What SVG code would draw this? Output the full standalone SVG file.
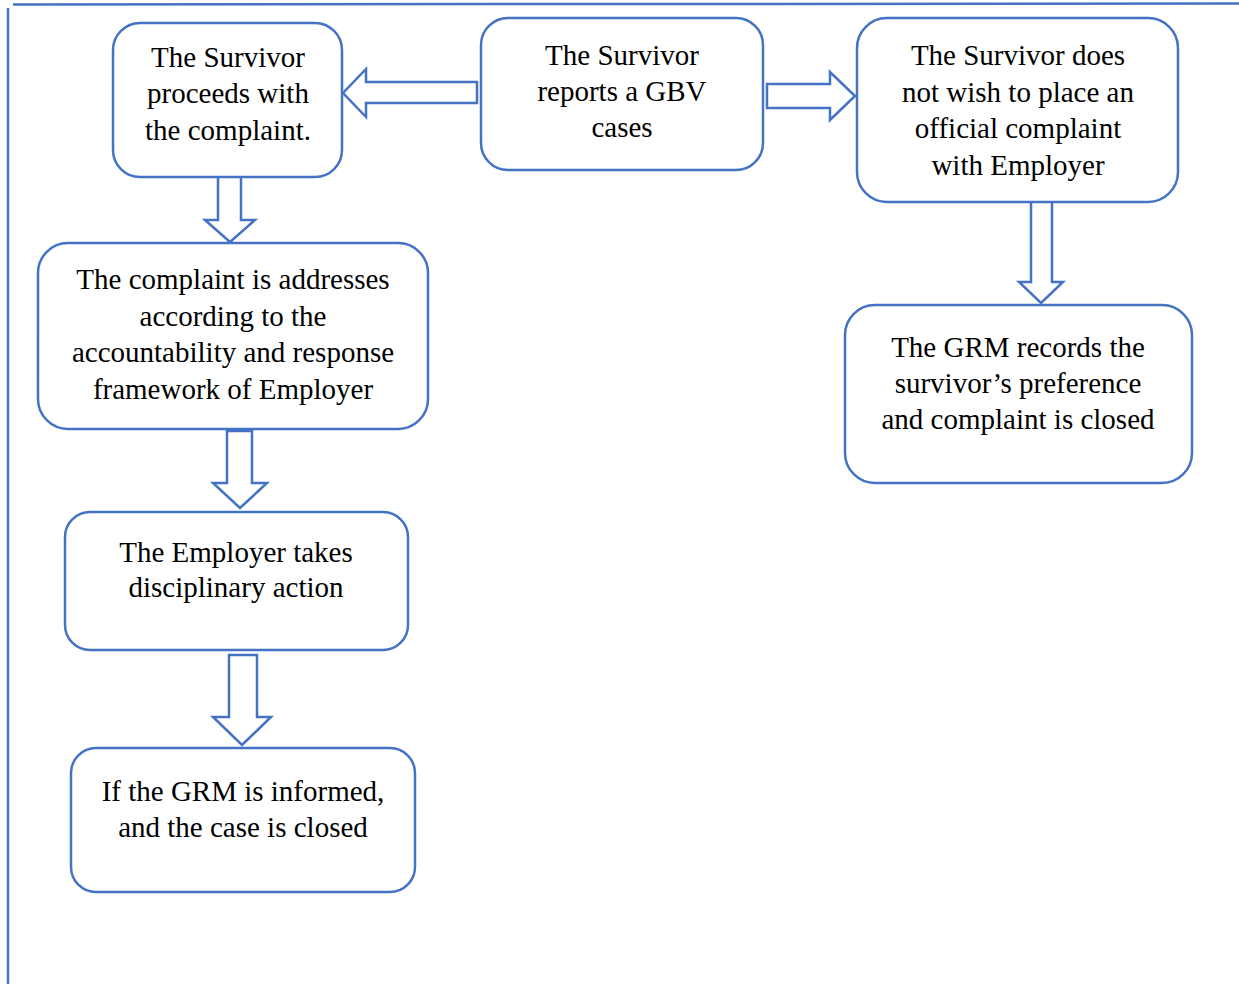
<svg xmlns="http://www.w3.org/2000/svg" width="1239" height="984" viewBox="0 0 1239 984">
<style>
.box{fill:#fff;stroke:#4472C4;stroke-width:2.5}
.arr{fill:#fff;stroke:#4472C4;stroke-width:2.5;stroke-linejoin:miter}
.frame{stroke:#4472C4;stroke-width:2.5;fill:none}
.t{font-family:'Liberation Serif',serif;font-size:29px;fill:#000;text-anchor:middle}
</style>
<rect width="1239" height="984" fill="#fff"/>
<g id="frame">
<line class="frame" x1="13" y1="4.5" x2="1239" y2="3.5"/>
<line class="frame" x1="8" y1="8" x2="8" y2="984"/>
</g>
<g id="connectors">
<polygon class="arr" points="477,82 366,82 366,69 343,93 366,117 366,103 477,103"/>
<polygon class="arr" points="767,84 830,84 830,72 855,96 830,120 830,108 767,108"/>
<polygon class="arr" points="218,173 241,173 241,220 255,220 230,242 205,220 218,220"/>
<polygon class="arr" points="227,431 252,431 252,483 267,483 240,508 213,483 227,483"/>
<polygon class="arr" points="229,655 257,655 257,717 271,717 242,745 213,717 229,717"/>
<polygon class="arr" points="1031,198 1052,198 1052,282 1063,282 1041,303 1019,282 1031,282"/>
</g>
<g class="t" font-family="Liberation Serif, serif">
<g id="n1">
<rect class="box" x="113" y="23" width="229" height="154" rx="27"/>
<text x="228" y="67">The Survivor</text>
<text x="228" y="103">proceeds with</text>
<text x="228" y="140">the complaint.</text>
</g>
<g id="n2">
<rect class="box" x="481" y="18" width="282" height="152" rx="27"/>
<text x="622" y="65">The Survivor</text>
<text x="622" y="101">reports a GBV</text>
<text x="622" y="137">cases</text>
</g>
<g id="n3">
<rect class="box" x="857" y="18" width="321" height="184" rx="30"/>
<text x="1018" y="65">The Survivor does</text>
<text x="1018" y="102">not wish to place an</text>
<text x="1018" y="138">official complaint</text>
<text x="1018" y="175">with Employer</text>
</g>
<g id="n4">
<rect class="box" x="38" y="243" width="390" height="186" rx="30"/>
<text x="233" y="289">The complaint is addresses</text>
<text x="233" y="326">according to the</text>
<text x="233" y="362">accountability and response</text>
<text x="233" y="399">framework of Employer</text>
</g>
<g id="n5">
<rect class="box" x="65" y="512" width="343" height="138" rx="25"/>
<text x="236" y="562">The Employer takes</text>
<text x="236" y="597">disciplinary action</text>
</g>
<g id="n6">
<rect class="box" x="71" y="748" width="344" height="144" rx="25"/>
<text x="243" y="801">If the GRM is informed,</text>
<text x="243" y="837">and the case is closed</text>
</g>
<g id="n7">
<rect class="box" x="845" y="305" width="347" height="178" rx="30"/>
<text x="1018" y="357">The GRM records the</text>
<text x="1018" y="393">survivor’s preference</text>
<text x="1018" y="429">and complaint is closed</text>
</g>
</g>
</svg>
